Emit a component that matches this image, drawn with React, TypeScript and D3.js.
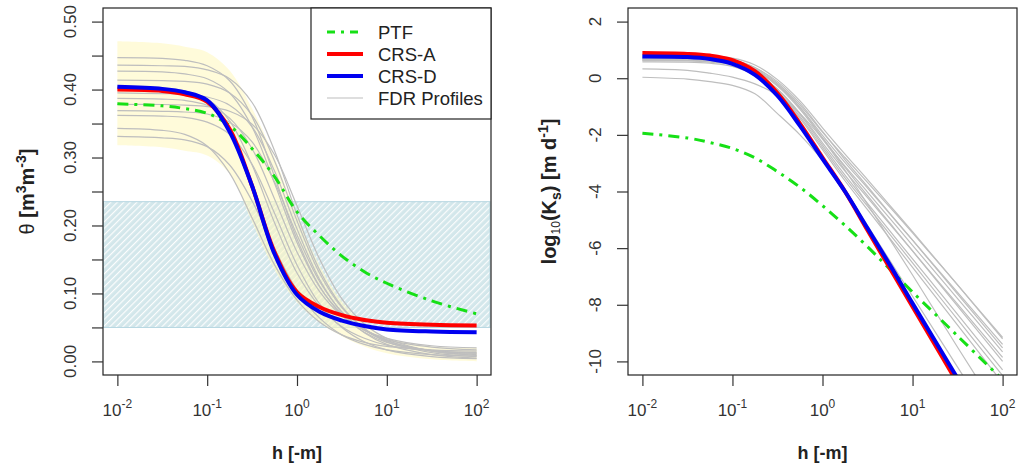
import * as d3 from "d3";
import { useEffect, useRef } from "react";

// pressure head, log10(h [m]) sample points shared by every curve
const logH = [-2, -1.5, -1.25, -1, -0.75, -0.5, -0.25, 0, 0.25, 0.5, 0.75, 1, 1.5, 2];
const decades = [-2, -1, 0, 1, 2];

// left panel: water retention
const thetaPTF = [0.379, 0.376, 0.372, 0.365, 0.347, 0.313, 0.272, 0.220, 0.185, 0.155, 0.132, 0.115, 0.089, 0.070];
const thetaCRSA = [0.400, 0.398, 0.393, 0.382, 0.342, 0.258, 0.161, 0.102, 0.080, 0.068, 0.061, 0.057, 0.054, 0.053];
const thetaCRSD = [0.404, 0.401, 0.396, 0.384, 0.338, 0.258, 0.158, 0.098, 0.073, 0.060, 0.052, 0.047, 0.044, 0.043];
const thetaFDR = [
  [0.447, 0.446, 0.443, 0.435, 0.413, 0.360, 0.272, 0.180, 0.111, 0.068, 0.043, 0.028, 0.016, 0.012],
  [0.436, 0.435, 0.434, 0.429, 0.416, 0.381, 0.310, 0.216, 0.135, 0.081, 0.048, 0.029, 0.013, 0.007],
  [0.427, 0.426, 0.423, 0.416, 0.395, 0.345, 0.262, 0.175, 0.110, 0.070, 0.046, 0.032, 0.021, 0.017],
  [0.414, 0.413, 0.412, 0.408, 0.395, 0.362, 0.295, 0.207, 0.130, 0.079, 0.048, 0.031, 0.015, 0.010],
  [0.404, 0.402, 0.398, 0.386, 0.354, 0.289, 0.204, 0.130, 0.081, 0.051, 0.034, 0.024, 0.016, 0.013],
  [0.395, 0.394, 0.393, 0.389, 0.377, 0.345, 0.280, 0.195, 0.121, 0.072, 0.042, 0.025, 0.010, 0.005],
  [0.387, 0.386, 0.384, 0.377, 0.358, 0.313, 0.239, 0.161, 0.103, 0.067, 0.046, 0.034, 0.023, 0.020],
  [0.378, 0.378, 0.377, 0.375, 0.368, 0.349, 0.304, 0.229, 0.151, 0.092, 0.055, 0.034, 0.015, 0.009],
  [0.369, 0.368, 0.367, 0.364, 0.352, 0.323, 0.264, 0.186, 0.118, 0.073, 0.046, 0.030, 0.016, 0.012],
  [0.362, 0.361, 0.359, 0.352, 0.334, 0.290, 0.218, 0.142, 0.085, 0.050, 0.029, 0.017, 0.007, 0.004],
  [0.343, 0.340, 0.334, 0.317, 0.277, 0.211, 0.142, 0.090, 0.058, 0.039, 0.028, 0.022, 0.017, 0.015],
  [0.331, 0.329, 0.326, 0.316, 0.289, 0.236, 0.166, 0.105, 0.064, 0.039, 0.025, 0.017, 0.010, 0.008],
];
const bandUpper = [0.471, 0.468, 0.463, 0.455, 0.428, 0.372, 0.300, 0.215, 0.142, 0.088, 0.054, 0.035, 0.022, 0.020];
const bandLower = [0.318, 0.315, 0.310, 0.303, 0.276, 0.205, 0.135, 0.087, 0.058, 0.037, 0.022, 0.012, 0.003, 0.0];
const rangeBand = [0.05, 0.235];
const thetaTicks = [0, 0.05, 0.1, 0.15, 0.2, 0.25, 0.3, 0.35, 0.4, 0.45, 0.5];
const thetaLabels = [0, 0.1, 0.2, 0.3, 0.4, 0.5];

// right panel: log10 hydraulic conductivity
const kPTF = [-1.94, -2.11, -2.27, -2.48, -2.81, -3.30, -3.85, -4.50, -5.20, -5.95, -6.75, -7.55, -9.10, -10.65];
const kCRSA = [0.89, 0.86, 0.80, 0.64, 0.25, -0.52, -1.60, -2.80, -4.00, -5.37, -6.72, -8.07, -10.77, -13.5];
const kCRSD = [0.77, 0.75, 0.68, 0.51, 0.12, -0.62, -1.68, -2.85, -4.00, -5.30, -6.60, -7.95, -10.60, -13.3];
const kFDR = [
  [0.80, 0.79, 0.77, 0.71, 0.47, -0.05, -0.80, -1.75, -2.68, -3.58, -4.50, -5.42, -7.30, -9.20],
  [0.76, 0.75, 0.72, 0.64, 0.38, -0.18, -0.95, -1.90, -2.80, -3.68, -4.56, -5.46, -7.30, -9.15],
  [0.74, 0.73, 0.70, 0.63, 0.37, -0.12, -0.88, -1.88, -2.88, -3.82, -4.78, -5.72, -7.62, -9.52],
  [0.72, 0.71, 0.68, 0.60, 0.33, -0.22, -1.02, -2.02, -2.98, -3.88, -4.80, -5.72, -7.56, -9.40],
  [0.70, 0.69, 0.66, 0.57, 0.29, -0.28, -1.10, -2.12, -3.10, -4.02, -4.96, -5.90, -7.78, -9.66],
  [0.68, 0.67, 0.64, 0.57, 0.30, -0.25, -1.05, -2.10, -3.15, -4.15, -5.12, -6.10, -8.05, -10.0],
  [0.66, 0.65, 0.62, 0.52, 0.22, -0.38, -1.24, -2.28, -3.28, -4.22, -5.16, -6.10, -7.98, -9.86],
  [0.64, 0.63, 0.60, 0.50, 0.20, -0.40, -1.28, -2.36, -3.42, -4.42, -5.40, -6.38, -8.34, -10.3],
  [0.62, 0.61, 0.57, 0.47, 0.15, -0.46, -1.36, -2.44, -3.52, -4.52, -5.52, -6.52, -8.52, -10.5],
  [0.58, 0.57, 0.53, 0.42, 0.10, -0.52, -1.42, -2.52, -3.62, -4.64, -5.66, -6.68, -8.72, -10.76],
  [0.035, -0.03, -0.12, -0.25, -0.55, -1.25, -2.00, -2.90, -3.95, -5.20, -6.45, -7.70, -10.20, -12.7],
  [0.33, 0.28, 0.18, 0.04, -0.20, -0.60, -1.25, -2.15, -3.25, -4.45, -5.70, -6.95, -9.50, -12.0],
];
const kTicks = [2, 0, -2, -4, -6, -8, -10];

const legendItems = ["PTF", "CRS-A", "CRS-D", "FDR Profiles"];

const FONT = '"Liberation Sans", Arial, Helvetica, sans-serif';
const GREEN = "#16e016";
const RED = "#ff0000";
const BLUE = "#0000f0";
const GREY = "#bebebe";
const DASH = "11,6,3,6";

export default function App() {
  const ref = useRef<SVGSVGElement>(null);

  useEffect(() => {
    const svg = d3.select(ref.current);
    svg.selectAll("*").remove();
    const defs = svg.append("defs");

    const pat = defs.append("pattern")
      .attr("id", "hatch")
      .attr("patternUnits", "userSpaceOnUse")
      .attr("width", 4.6)
      .attr("height", 4.6)
      .attr("patternTransform", "rotate(45)");
    pat.append("rect").attr("width", 4.6).attr("height", 4.6).attr("fill", "#d3e7eb");
    pat.append("line")
      .attr("x1", 0.6).attr("y1", 0).attr("x2", 0.6).attr("y2", 4.6)
      .attr("stroke", "#ffffff").attr("stroke-width", 1.1);

    const xDom = [10 ** -2.16, 10 ** 2.16];
    const panels = [
      { x0: 103, x1: 491, y: d3.scaleLinear().domain([-0.02, 0.52]).range([375, 8]) },
      { x0: 628, x1: 1017, y: d3.scaleLinear().domain([-10.48, 2.48]).range([375, 8]) },
    ];
    const top = 8, bottom = 375;

    panels.forEach((p, pi) => {
      const x = d3.scaleLog().domain(xDom).range([p.x0, p.x1]);
      const y = p.y;
      const g = svg.append("g");
      const clipId = "clip" + pi;
      defs.append("clipPath").attr("id", clipId)
        .append("rect").attr("x", p.x0).attr("y", top).attr("width", p.x1 - p.x0).attr("height", bottom - top);

      const plot = g.append("g").attr("clip-path", `url(#${clipId})`);
      const line = d3.line<number>()
        .x((d, i) => x(10 ** logH[i]))
        .y((d) => y(d))
        .curve(d3.curveCatmullRom.alpha(0.5));

      if (pi === 0) {
        plot.append("rect")
          .attr("x", p.x0 + 0.5)
          .attr("y", y(rangeBand[1]))
          .attr("width", p.x1 - p.x0 - 1.5)
          .attr("height", y(rangeBand[0]) - y(rangeBand[1]))
          .attr("fill", "url(#hatch)")
          .attr("stroke", "#b4d6e0")
          .attr("stroke-width", 1);

        const area = d3.area<number>()
          .x((d, i) => x(10 ** logH[i]))
          .y0((d, i) => y(bandLower[i]))
          .y1((d) => y(d))
          .curve(d3.curveCatmullRom.alpha(0.5));
        plot.append("path").attr("d", area(bandUpper))
          .attr("fill", "#fff8c0").attr("fill-opacity", 0.58);

        thetaFDR.forEach((s) => {
          plot.append("path").attr("d", line(s)).attr("fill", "none")
            .attr("stroke", GREY).attr("stroke-width", 1.2);
        });
        plot.append("path").attr("d", line(thetaPTF)).attr("fill", "none")
          .attr("stroke", GREEN).attr("stroke-width", 3).attr("stroke-dasharray", DASH);
        plot.append("path").attr("d", line(thetaCRSA)).attr("fill", "none")
          .attr("stroke", RED).attr("stroke-width", 4);
        plot.append("path").attr("d", line(thetaCRSD)).attr("fill", "none")
          .attr("stroke", BLUE).attr("stroke-width", 4);
      } else {
        kFDR.forEach((s) => {
          plot.append("path").attr("d", line(s)).attr("fill", "none")
            .attr("stroke", GREY).attr("stroke-width", 1.2);
        });
        plot.append("path").attr("d", line(kPTF)).attr("fill", "none")
          .attr("stroke", GREEN).attr("stroke-width", 3).attr("stroke-dasharray", DASH);
        plot.append("path").attr("d", line(kCRSA)).attr("fill", "none")
          .attr("stroke", RED).attr("stroke-width", 4);
        plot.append("path").attr("d", line(kCRSD)).attr("fill", "none")
          .attr("stroke", BLUE).attr("stroke-width", 4);
      }

      // frame
      g.append("rect")
        .attr("x", p.x0).attr("y", top)
        .attr("width", p.x1 - p.x0).attr("height", bottom - top)
        .attr("fill", "none").attr("stroke", "#222").attr("stroke-width", 1.2);

      // x axis
      const xa = g.append("g").attr("transform", `translate(0,${bottom})`)
        .call(d3.axisBottom(x).tickValues(decades.map((e) => 10 ** e)).tickSize(11).tickFormat(() => ""));
      xa.select(".domain").remove();
      xa.selectAll("line").attr("stroke", "#333").attr("stroke-width", 1.2);
      decades.forEach((e) => {
        const t = g.append("text")
          .attr("x", x(10 ** e)).attr("y", 416)
          .attr("text-anchor", "middle")
          .attr("font-family", FONT).attr("font-size", 17).attr("fill", "#333");
        t.append("tspan").text("10");
        t.append("tspan").attr("dy", -8).attr("font-size", 12).text(String(e));
      });
      g.append("text")
        .attr("x", (p.x0 + p.x1) / 2).attr("y", 459)
        .attr("text-anchor", "middle")
        .attr("font-family", FONT).attr("font-size", 18).attr("font-weight", "bold").attr("fill", "#222")
        .text("h [-m]");

      // y axis
      const tv = pi === 0 ? thetaTicks : kTicks;
      const ya = g.append("g").attr("transform", `translate(${p.x0},0)`)
        .call(d3.axisLeft(y).tickValues(tv).tickSize(11).tickFormat(() => ""));
      ya.select(".domain").remove();
      ya.selectAll("line").attr("stroke", "#333").attr("stroke-width", 1.2);
      const lv = pi === 0 ? thetaLabels : kTicks;
      lv.forEach((v) => {
        g.append("text")
          .attr("transform", `translate(${p.x0 - 27},${y(v)}) rotate(-90)`)
          .attr("text-anchor", "middle")
          .attr("font-family", FONT).attr("font-size", 17).attr("fill", "#333")
          .text(pi === 0 ? d3.format(".2f")(v) : String(v));
      });

      const cy = (top + bottom) / 2;
      const yt = g.append("text")
        .attr("transform", `translate(${pi === 0 ? 34 : 556},${cy}) rotate(-90)`)
        .attr("text-anchor", "middle")
        .attr("font-family", FONT).attr("font-size", 20).attr("font-weight", "bold").attr("fill", "#222");
      if (pi === 0) {
        yt.append("tspan").attr("font-weight", "normal").text("θ ");
        yt.append("tspan").text("[m");
        yt.append("tspan").attr("dy", -8).attr("font-size", 14).text("3");
        yt.append("tspan").attr("dy", 8).text("m");
        yt.append("tspan").attr("dy", -8).attr("font-size", 14).text("-3");
        yt.append("tspan").attr("dy", 8).text("]");
      } else {
        yt.append("tspan").text("log");
        yt.append("tspan").attr("dy", 4).attr("font-size", 12).attr("font-weight", "normal").text("10");
        yt.append("tspan").attr("dy", -4).text("(K");
        yt.append("tspan").attr("dy", 5).attr("font-size", 14).text("s");
        yt.append("tspan").attr("dy", -5).text(")  [m d");
        yt.append("tspan").attr("dy", -8).attr("font-size", 14).text("-1");
        yt.append("tspan").attr("dy", 8).text("]");
      }
    });

    // legend in the left panel
    const lg = svg.append("g");
    lg.append("rect").attr("x", 311).attr("y", 8).attr("width", 180).attr("height", 111)
      .attr("fill", "#fff").attr("stroke", "#222").attr("stroke-width", 1.2);
    const styles = [
      { c: GREEN, w: 3, d: "8,6,3,6" },
      { c: RED, w: 4, d: null },
      { c: BLUE, w: 4, d: null },
      { c: GREY, w: 1.2, d: null },
    ];
    legendItems.forEach((name, i) => {
      const yy = 32 + i * 22;
      const st = styles[i];
      const l = lg.append("line").attr("x1", 327).attr("x2", 363).attr("y1", yy).attr("y2", yy)
        .attr("stroke", st.c).attr("stroke-width", st.w);
      if (st.d) l.attr("stroke-dasharray", st.d);
      lg.append("text").attr("x", 378).attr("y", yy + 6.5)
        .attr("font-family", FONT).attr("font-size", 18.5).attr("fill", "#222")
        .text(name);
    });
  }, []);

  return (
    <div style={{ width: 1022, height: 468 }}>
      <svg ref={ref} width={1022} height={468} style={{ display: "block", position: "absolute", left: 0, top: 0, background: "#fff" }} />
    </div>
  );
}
